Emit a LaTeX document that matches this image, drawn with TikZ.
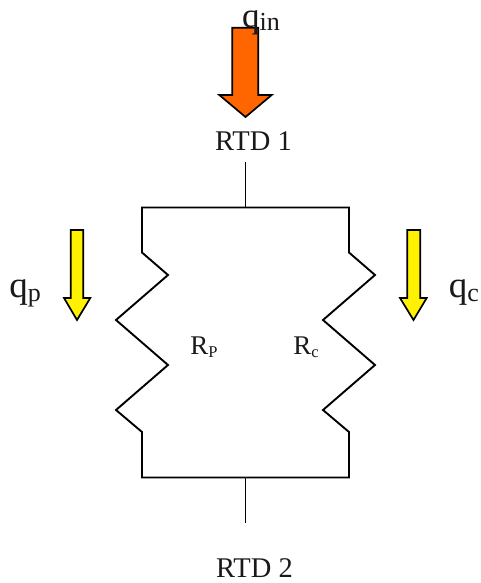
\documentclass[tikz,border=0pt]{standalone}
\usepackage{fontspec}
\setmainfont{Liberation Serif}
\newcommand{\fz}[1]{\fontsize{#1}{#1}\selectfont}
\newcommand{\bigq}[2]{{\fz{37}#1}\raisebox{-4.5pt}{\fz{26}#2}}
\newcommand{\topq}[2]{{\fz{35}#1}\raisebox{-3pt}{\fz{26}#2}}
\newcommand{\resl}[2]{{\fz{27}#1}\raisebox{-3pt}{\fz{16.5}#2}}
\tikzset{
  wire/.style={draw=black,line width=1.9pt,line join=miter},
  flow/.style={draw=black,line width=1.7pt,line join=miter},
  lbl/.style={inner sep=0pt,anchor=base,text=black!90},
  rtd/.style={lbl,font=\fz{28.5}},
}
\begin{document}
\begin{tikzpicture}[x=1pt,y=-1pt]
\useasboundingbox (0,0) rectangle (480,583);
% arrows
\draw[flow,fill={rgb,255:red,255;green,102;blue,0}] (232.3,27.7) -- (258.3,27.7) -- (258.3,95) -- (271.7,95) -- (245.5,117) -- (219.3,95) -- (232.3,95) -- cycle;
\draw[flow,fill=yellow] (70.7,230) -- (83.3,230) -- (83.3,298) -- (90.3,298) -- (77,320) -- (64,298) -- (70.7,298) -- cycle;
\draw[flow,fill=yellow] (407.3,230) -- (420.3,230) -- (420.3,298) -- (426.7,298) -- (413.5,320) -- (400,298) -- (407.3,298) -- cycle;
% labels
\node[lbl] (qin) at (261,28) {\topq{q}{in}};
\node[rtd] (rtd1) at (253.5,150) {RTD 1};
\node[rtd] (rtd2) at (254.5,577) {RTD 2};
\node[lbl] (qp) at (25,297) {\bigq{q}{p}};
\node[lbl] (qc) at (464,297) {\bigq{q}{c}};
\node[lbl] (rp) at (204,354) {\resl{R}{P}};
\node[lbl] (rc) at (306,354) {\resl{R}{c}};
% circuit
\coordinate (top) at (245.5,162);
\coordinate (tj) at (245.5,207.5);
\coordinate (bj) at (245.5,477.5);
\coordinate (bot) at (245.5,523);
\coordinate (tl) at (142,207.5);
\coordinate (tr) at (349,207.5);
\coordinate (bl) at (142,477.5);
\coordinate (br) at (349,477.5);
\draw[wire] (top) -- (tj);
\draw[wire] (bj) -- (bot);
\draw[wire] (tj) -- (tl) -- (142,252.5) -- (168,275) -- (116,320) -- (168,365) -- (116,410) -- (142,432) -- (bl) -- (bj);
\draw[wire] (tj) -- (tr) -- (349,252.5) -- (375,275) -- (323,320) -- (375,365) -- (323,410) -- (349,432) -- (br) -- (bj);
\end{tikzpicture}
\end{document}
